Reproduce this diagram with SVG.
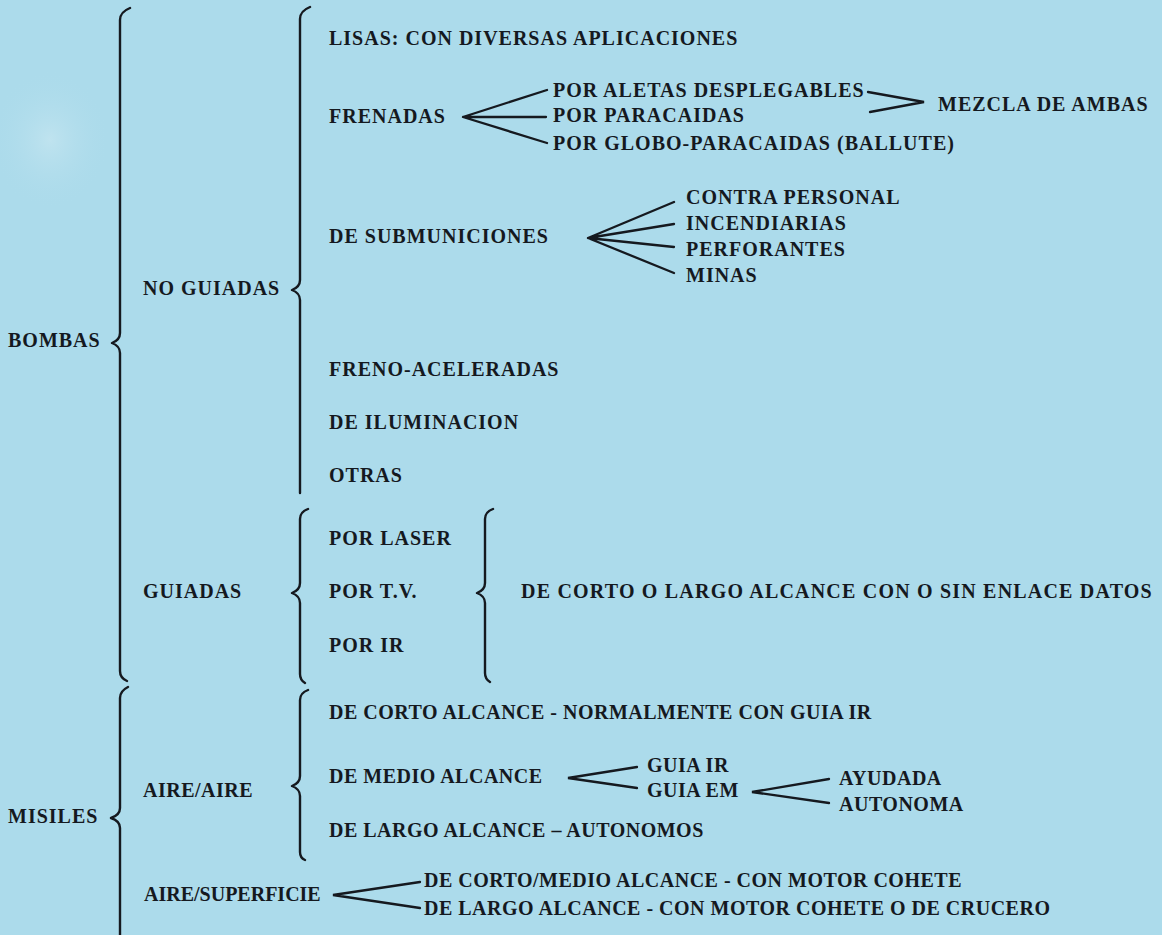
<svg xmlns="http://www.w3.org/2000/svg" width="1162" height="935" viewBox="0 0 1162 935">
<defs>
<radialGradient id="blob" cx="0.5" cy="0.5" r="0.5">
<stop offset="0" stop-color="#c4e5f0" stop-opacity="0.8"/>
<stop offset="1" stop-color="#acdbeb" stop-opacity="0"/>
</radialGradient>
</defs>
<style>
text{font-family:"Liberation Serif","Times New Roman",serif;font-weight:bold;font-size:20px;letter-spacing:1px;fill:#15191f}
text.t{letter-spacing:0.5px}
text.t0{letter-spacing:0px}
text.w{letter-spacing:1.2px}
.br{fill:none;stroke:#15191f;stroke-width:2.4;stroke-linecap:round;stroke-linejoin:round}
.ln{fill:none;stroke:#15191f;stroke-width:2.3;stroke-linecap:round}
</style>
<rect width="1162" height="935" fill="#acdbeb"/>
<ellipse cx="50" cy="140" rx="60" ry="70" fill="url(#blob)"/>

<g id="connectors">
<path class="br" d="M130,8 Q120,12 120,20 L120,333 Q120,340 112,343 Q120,346 120,353 L120,671 Q120,678 127,681"/>
<path class="br" d="M310,7 Q300,11 300,19 L300,280 Q300,287 292,290 Q300,293 300,300 L300,493"/>
<path class="br" d="M308,509 Q300,512 300,519 L300,583 Q300,590 292,593 Q300,596 300,603 L300,674 Q300,680 305,683"/>
<path class="br" d="M493,509 Q485,512 485,519 L485,583 Q485,590 477,593 Q485,596 485,603 L485,673 Q485,679 490,682"/>
<path class="br" d="M128,687 Q120,691 120,698 L120,808 Q120,815 111,818 Q120,821 120,828 L120,935"/>
<path class="br" d="M308,690 Q300,693 300,700 L300,776 Q300,783 292,786 Q300,789 300,796 L300,852 Q300,858 305,860"/>
<path class="ln" d="M547,90 L463,117 L546,117 M463,117 L547,143"/>
<path class="ln" d="M868,92 L924,102 L870,112"/>
<path class="ln" d="M674,202 L588,238 L674,224 M588,238 L674,247 M588,238 L674,273"/>
<path class="ln" d="M637,767 L568,778 L637,788"/>
<path class="ln" d="M829,779 L752,792 L829,803"/>
<path class="ln" d="M420,882 L333,895 L420,908"/>
</g>

<g id="bombas"><text x="8" y="347">BOMBAS</text></g>
<g id="no-guiadas"><text x="143" y="295">NO GUIADAS</text></g>
<g id="lisas"><text x="329" y="45">LISAS: CON DIVERSAS APLICACIONES</text></g>
<g id="frenadas"><text x="329" y="123">FRENADAS</text></g>
<g id="por-aletas"><text x="553" y="97">POR ALETAS DESPLEGABLES</text></g>
<g id="por-paracaidas"><text x="553" y="122">POR PARACAIDAS</text></g>
<g id="por-globo"><text x="553" y="150">POR GLOBO-PARACAIDAS (BALLUTE)</text></g>
<g id="mezcla"><text x="938" y="111">MEZCLA DE AMBAS</text></g>
<g id="submuniciones"><text x="329" y="243">DE SUBMUNICIONES</text></g>
<g id="contra-personal"><text x="686" y="204">CONTRA PERSONAL</text></g>
<g id="incendiarias"><text x="686" y="230">INCENDIARIAS</text></g>
<g id="perforantes"><text x="686" y="256">PERFORANTES</text></g>
<g id="minas"><text x="686" y="282">MINAS</text></g>
<g id="freno-aceleradas"><text x="329" y="376">FRENO-ACELERADAS</text></g>
<g id="iluminacion"><text x="329" y="429">DE ILUMINACION</text></g>
<g id="otras"><text x="329" y="482">OTRAS</text></g>
<g id="guiadas"><text x="143" y="598">GUIADAS</text></g>
<g id="por-laser"><text x="329" y="545">POR LASER</text></g>
<g id="por-tv"><text x="329" y="598">POR T.V.</text></g>
<g id="por-ir"><text x="329" y="652">POR IR</text></g>
<g id="enlace"><text class="w" x="521" y="598">DE CORTO O LARGO ALCANCE CON O SIN ENLACE DATOS</text></g>
<g id="misiles"><text x="8" y="823">MISILES</text></g>
<g id="aire-aire"><text class="t" x="143" y="797">AIRE/AIRE</text></g>
<g id="corto-alcance"><text class="t" x="329" y="719">DE CORTO ALCANCE - NORMALMENTE CON GUIA IR</text></g>
<g id="medio-alcance"><text class="t" x="329" y="783">DE MEDIO ALCANCE</text></g>
<g id="guia-ir"><text class="t" x="647" y="772">GUIA IR</text></g>
<g id="guia-em"><text class="t" x="647" y="797">GUIA EM</text></g>
<g id="ayudada"><text class="t" x="839" y="785">AYUDADA</text></g>
<g id="autonoma"><text class="t" x="839" y="811">AUTONOMA</text></g>
<g id="largo-alcance"><text class="t" x="329" y="837">DE LARGO ALCANCE – AUTONOMOS</text></g>
<g id="aire-superficie"><text class="t0" x="144" y="901">AIRE/SUPERFICIE</text></g>
<g id="as-corto"><text class="t" x="424" y="887">DE CORTO/MEDIO ALCANCE - CON MOTOR COHETE</text></g>
<g id="as-largo"><text class="t" x="424" y="915">DE LARGO ALCANCE - CON MOTOR COHETE O DE CRUCERO</text></g>
</svg>
